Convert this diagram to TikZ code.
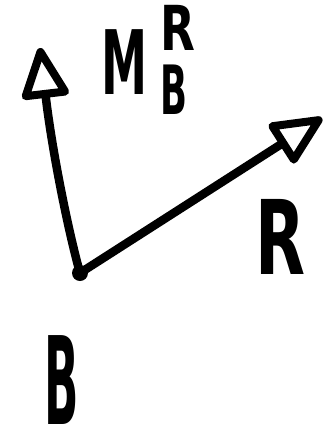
\documentclass[tikz,border=0pt]{standalone}
\usepackage{fontspec}
\setmainfont{DejaVu Sans}
\usetikzlibrary{arrows.meta}
\begin{document}
\begin{tikzpicture}[x=1pt,y=-1pt,
  stroke/.style={line width=8.5pt, line cap=round, line join=round},
  vec/.style={stroke, -{Triangle[open, length=56pt, width=50pt, line width=8pt, round]}},
  lbl/.style={inner sep=0pt, anchor=center, font=\bfseries}]
\useasboundingbox (0,0) rectangle (323,437);
\coordinate (B) at (80,273);
\coordinate (tipM) at (40,48);
\coordinate (tipR) at (322,118);
\fill (B) circle (8pt);
\draw[vec] (B) .. controls (68,230) and (52,150) .. (tipM);
\draw[vec] (B) -- (tipR);
\node[lbl, xscale=0.52] (M) at (125,62) {\fontsize{89}{89}\selectfont M};
\node[lbl, xscale=0.73] (Rs) at (178,28) {\fontsize{62}{62}\selectfont R};
\node[lbl, xscale=0.52] (Bs) at (174,90) {\fontsize{68}{68}\selectfont B};
\node[lbl, xscale=0.63] (R) at (280,237) {\fontsize{103}{103}\selectfont R};
\node[lbl, xscale=0.37] (Bl) at (62,380) {\fontsize{122}{122}\selectfont B};
\end{tikzpicture}
\end{document}
